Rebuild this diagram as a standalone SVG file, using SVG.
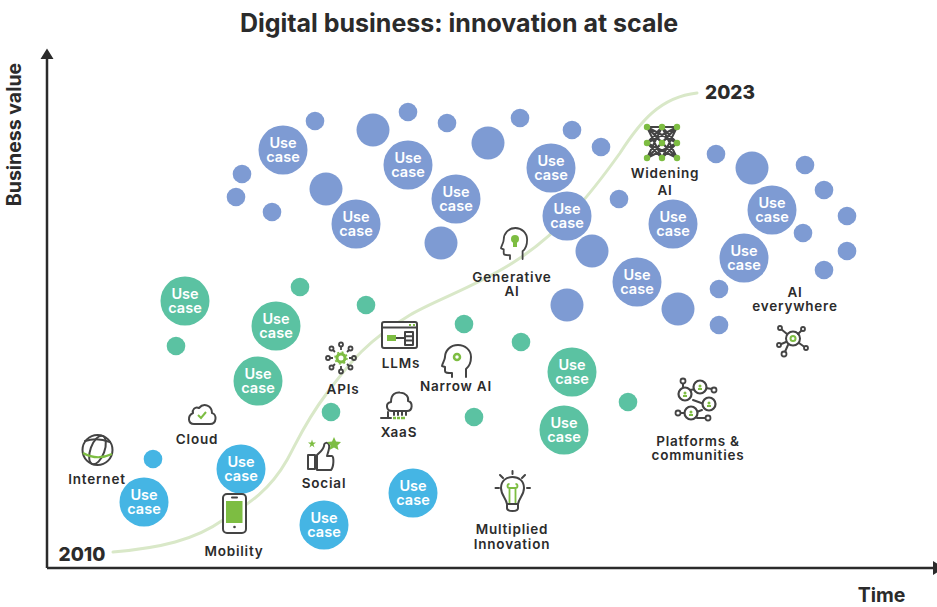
<svg xmlns="http://www.w3.org/2000/svg" width="937" height="607" viewBox="0 0 937 607">
<style>
text{font-family:"Inter","Lato","Liberation Sans",sans-serif;font-weight:700;fill:#2b2b2b;text-anchor:middle}
.l{font-size:13.500px;font-weight:600;letter-spacing:.8px}
.y{font-size:19px;font-weight:800}
.t{font-size:19.500px;font-weight:700}
.u{fill:#fff;font-size:14.500px;font-weight:600}
.v{fill:#7e9bd3}.g{fill:#5bc2a2}.b{fill:#45b5e4}
.i{fill:none;stroke:#444;stroke-width:2;stroke-linecap:round;stroke-linejoin:round}
.w{fill:#fff;stroke:#444;stroke-width:2;stroke-linecap:round;stroke-linejoin:round}
.a{fill:#7dbd42}
.s{fill:none;stroke:#7dbd42;stroke-width:2}
</style>
<defs>
<g id="uc"><text class="u" y="-2">Use</text><text class="u" y="11.500">case</text></g>
<path id="head" d="M24 32V24C29 20 29 15 29 12C29 5 23 0 16 0C8 0 3 6 3 12C3 15 0 19 0 21L3 22V26C3 28 5 28 10 28V32"/>
</defs>
<rect width="937" height="607" fill="#fff"/>
<text x="459" y="32" font-size="25" font-weight="700">Digital business: innovation at scale</text>
<text transform="translate(21 134.500) rotate(-90)" class="t">Business value</text>
<text x="881.500" y="602" class="t">Time</text>
<g id="connectors">
<path d="M47 568V56M47 568H933" fill="none" stroke="#2b2b2b" stroke-width="2.500"/>
<path d="M40.500 59L47 48.500L53.500 59ZM933 561L944 568L933 575Z" fill="#2b2b2b"/>
<path d="M113 552C160 548 195 540 223 520C250 503 270 490 287 460C297 442 305 422 327 393C345 370 360 345 410 315C435 300 480 285 517 260C560 232 590 195 620 153C640 122 660 97 697 93" fill="none" stroke="#d9e8c8" stroke-width="3" stroke-linecap="round"/>
</g>
<text x="82" y="561" class="y">2010</text>
<text x="730" y="99" class="y">2023</text>
<g id="usecases-violet" class="v">
<circle cx="283" cy="150" r="24.500"/><circle cx="408" cy="165" r="24.500"/><circle cx="456" cy="199" r="24.500"/><circle cx="356" cy="224" r="24.500"/><circle cx="551" cy="168" r="24.500"/><circle cx="567" cy="216" r="24.500"/><circle cx="673" cy="224" r="24.500"/><circle cx="637" cy="282" r="24.500"/><circle cx="744" cy="258" r="24.500"/><circle cx="772" cy="210" r="24.500"/>
<circle cx="373" cy="130" r="16.500"/><circle cx="488" cy="143" r="16.500"/><circle cx="326" cy="189" r="16.500"/><circle cx="441" cy="243" r="16.500"/><circle cx="592" cy="251" r="16.500"/><circle cx="567" cy="305" r="16.500"/><circle cx="678" cy="309" r="16.500"/><circle cx="752" cy="168" r="16.500"/>
<circle cx="315" cy="121" r="9.300"/><circle cx="408" cy="112" r="9.300"/><circle cx="447" cy="123" r="9.300"/><circle cx="520" cy="118" r="9.300"/><circle cx="572" cy="130" r="9.300"/><circle cx="601" cy="147" r="9.300"/><circle cx="619" cy="199" r="9.300"/><circle cx="242" cy="174" r="9.300"/><circle cx="236" cy="197" r="9.300"/><circle cx="272" cy="212" r="9.300"/><circle cx="716" cy="154" r="9.300"/><circle cx="805" cy="165" r="9.300"/><circle cx="824" cy="190" r="9.300"/><circle cx="847" cy="216" r="9.300"/><circle cx="803" cy="233" r="9.300"/><circle cx="847" cy="251" r="9.300"/><circle cx="824" cy="270" r="9.300"/><circle cx="719" cy="289" r="9.300"/><circle cx="719" cy="325" r="9.300"/>
</g>
<g id="usecases-green" class="g">
<circle cx="185" cy="301" r="24.500"/><circle cx="276" cy="326" r="24.500"/><circle cx="258" cy="381" r="24.500"/><circle cx="572" cy="372" r="24.500"/><circle cx="564" cy="430" r="24.500"/>
<circle cx="176" cy="346" r="9.300"/><circle cx="300" cy="287" r="9.300"/><circle cx="366" cy="305" r="9.300"/><circle cx="464" cy="324" r="9.300"/><circle cx="521" cy="342" r="9.300"/><circle cx="331" cy="412" r="9.300"/><circle cx="474" cy="417" r="9.300"/><circle cx="628" cy="402" r="9.300"/>
</g>
<g id="usecases-blue" class="b">
<circle cx="144" cy="502" r="24.500"/><circle cx="241" cy="469" r="24.500"/><circle cx="324" cy="525" r="24.500"/><circle cx="413" cy="493" r="24.500"/><circle cx="153" cy="459" r="9.300"/>
</g>
<g id="usecase-labels">
<use href="#uc" x="283" y="150"/><use href="#uc" x="408" y="165"/><use href="#uc" x="456" y="199"/><use href="#uc" x="356" y="224"/><use href="#uc" x="551" y="168"/><use href="#uc" x="567" y="216"/><use href="#uc" x="673" y="224"/><use href="#uc" x="637" y="282"/><use href="#uc" x="744" y="258"/><use href="#uc" x="772" y="210"/>
<use href="#uc" x="185" y="301"/><use href="#uc" x="276" y="326"/><use href="#uc" x="258" y="381"/><use href="#uc" x="572" y="372"/><use href="#uc" x="564" y="430"/>
<use href="#uc" x="144" y="502"/><use href="#uc" x="241" y="469"/><use href="#uc" x="324" y="525"/><use href="#uc" x="413" y="493"/>
</g>
<g id="internet">
<circle class="i" cx="97.500" cy="450" r="15" stroke-width="2.500"/><ellipse class="i" cx="97.500" cy="450" rx="7" ry="15" transform="rotate(20 97.500 450)"/><path class="i" d="M85 441Q97 437 110 442"/><path d="M83 453Q97 461 112 454" fill="none" stroke="#7dbd42" stroke-width="2.200"/>
<text class="l" x="97" y="484">Internet</text>
</g>
<g id="cloud">
<path class="i" d="M194 424H210C217 424 217 414 212 413C212 406 204 402 199 408C195 406 192 410 193 413C187 416 188 424 194 424Z"/><path d="M198 415L201 418L206 412" fill="none" stroke="#7dbd42" stroke-width="2"/>
<text class="l" x="197" y="444">Cloud</text>
</g>
<g id="mobility">
<rect class="w" x="223" y="494" width="23" height="39" rx="4"/><rect class="a" x="226" y="501" width="16.500" height="22"/><circle cx="234.500" cy="527" r="1.300" fill="#444"/><path class="i" d="M232 497.500H237" stroke-width="1.500"/>
<text class="l" x="234" y="556">Mobility</text>
</g>
<g id="social">
<path class="i" d="M308 455H315V469H308ZM317 455C320 452 323 450 324 446C324 442 328 442 329 445C330 448 328 452 327 456H332C334 456 334 467 331 470H317Z"/><path class="a" d="M312 439.500L313 442.500L316 442.500L313.500 444.500L314.500 447.500L312 445.500L309.500 447.500L310.500 444.500L308 442.500L311 442.500ZM334 437L336 441.500L341 442L337.500 445.500L338.500 450L334 447.500L329.500 450L330.500 445.500L327 442L332 441.500Z"/>
<text class="l" x="324" y="488">Social</text>
</g>
<g id="apis">
<circle cx="341" cy="358" r="4" fill="none" stroke="#7dbd42" stroke-width="3"/><circle cx="341" cy="358" r="6" fill="none" stroke="#7dbd42" stroke-width="1.500" stroke-dasharray="2 2.700"/>
<g fill="none" stroke="#444" stroke-width="1.800"><circle cx="341" cy="344.500" r="2"/><circle cx="350.500" cy="348.500" r="2"/><circle cx="354" cy="358" r="2"/><circle cx="350.500" cy="367.500" r="2"/><circle cx="341" cy="371.500" r="2"/><circle cx="331.500" cy="367.500" r="2"/><circle cx="328" cy="358" r="2"/><circle cx="331.500" cy="348.500" r="2"/>
<path d="M341 346.500V350M349 350L347 352M352 358H349M349 366L347 364M341 369.500V366M333 366L335 364M330 358H333M333 350L335 352"/></g>
<text class="l" x="343" y="394">APIs</text>
</g>
<g id="llms">
<rect class="w" x="382" y="322" width="35" height="26" rx="2"/><path class="i" d="M382 327.500H417M405 332H413V345H405ZM405 336.300H413M405 340.600H413M396 338H405" stroke-width="1.500"/><rect class="a" x="387" y="335" width="9" height="6"/><path class="s" d="M409 325H411M413 325H415" stroke-width="1.500"/>
<text class="l" x="401" y="368">LLMs</text>
</g>
<g id="xaas">
<path class="i" d="M392 411C386 411 385 403 391 402C391 394 396 392 400 392.500C406 393 409 397 408 401C413 402 413 411 407 411Z"/><path class="i" d="M394 411V415M398 411V415M402 411V415M406 411V415M381 418H391M388 418V412" stroke-width="1.500"/>
<path d="M393 418H396M397 418H400M401 418H405" stroke="#7dbd42" stroke-width="2.500"/>
<text class="l" x="399" y="437">XaaS</text>
</g>
<g id="narrow-ai">
<use href="#head" class="i" x="442" y="345"/><circle cx="457" cy="357" r="3" fill="none" stroke="#7dbd42" stroke-width="2.500"/>
<text x="456" y="391" class="l">Narrow AI</text>
</g>
<g id="generative-ai">
<use href="#head" class="i" transform="translate(501 228) scale(.9 .97)"/><circle class="a" cx="515" cy="239" r="4"/><rect class="a" x="513" y="242" width="4" height="5"/>
<text x="512" y="281.500" class="l">Generative</text><text x="512" y="296" class="l">AI</text>
</g>
<g id="widening-ai">
<path d="M647 127H677M647 127L662 143L677 127M647 127L662 158L677 127M647 143L662 127L677 143L662 158ZM647 158L662 143L677 158M647 127L677 158M677 127L647 158M662 127L647 158M662 127L677 158M647 143L677 158M677 143L647 158M647 143L677 127M677 143L647 127" fill="none" stroke="#444" stroke-width="2"/>
<g class="a"><circle cx="647" cy="127" r="3.200"/><circle cx="662" cy="127" r="3.200"/><circle cx="677" cy="127" r="3.200"/><circle cx="647" cy="143" r="3.200"/><circle cx="662" cy="143" r="3.200"/><circle cx="677" cy="143" r="3.200"/><circle cx="647" cy="158" r="3.200"/><circle cx="662" cy="158" r="3.200"/><circle cx="677" cy="158" r="3.200"/></g>
<text class="l" x="665" y="178">Widening</text><text class="l" x="665" y="195">AI</text>
</g>
<g id="ai-everywhere">
<text class="l" x="795" y="296.500">AI</text><text class="l" x="795" y="311">everywhere</text>
<circle class="i" cx="793" cy="338.500" r="7"/><circle cx="793" cy="338.500" r="2.500" fill="none" stroke="#7dbd42" stroke-width="2"/>
<path class="i" d="M781 329L787 334M803 329L798 334M779 345L786 342M784 354L788 345M806 348L799 343"/>
<g fill="#fff" stroke="#444" stroke-width="1.800"><circle cx="780" cy="328" r="2"/><circle cx="803" cy="329" r="2"/><circle cx="779" cy="345" r="2"/><circle cx="784" cy="354" r="2.500"/><circle cx="806" cy="348" r="2"/></g>
</g>
<g id="platforms">
<path class="i" d="M683 383V390M700 387L712 389M690 390L696 389M693 400L704 404M694 413L702 410M685 413H680M697 418L706 418"/>
<g fill="#fff" stroke="#444" stroke-width="1.800"><circle cx="683" cy="381" r="2.500"/><circle cx="714" cy="390" r="2.500"/><circle cx="678" cy="413" r="2.500"/><circle cx="708" cy="418" r="2.500"/></g>
<g fill="#fff" stroke="#444" stroke-width="2.200"><circle cx="685" cy="394" r="6.500"/><circle cx="700" cy="387" r="6.500"/><circle cx="709" cy="404" r="6.500"/><circle cx="691" cy="413" r="6.500"/></g>
<g class="a"><circle cx="685" cy="393" r="1.500"/><rect x="683" y="395" width="4" height="2"/><circle cx="700" cy="386" r="1.500"/><rect x="698" y="388" width="4" height="2"/><circle cx="709" cy="403" r="1.500"/><rect x="707" y="405" width="4" height="2"/><circle cx="691" cy="412" r="1.500"/><rect x="689" y="414" width="4" height="2"/></g>
<text class="l" x="698" y="445.500">Platforms &amp;</text><text class="l" x="698" y="460">communities</text>
</g>
<g id="multiplied-innovation">
<path class="i" d="M507 504C506 498 501 495 501 488C501 481 506 477 512.500 477C519 477 524 481 524 488C524 495 519 498 518 504ZM507 504V508C507 512 518 512 518 508V504"/>
<path d="M509.500 503V487M515.500 503V487M509.500 484A2 2 0 1 0 509.500 488H515.500A2 2 0 1 0 515.500 484" fill="none" stroke="#7dbd42" stroke-width="1.800"/>
<path class="i" d="M512.500 471V474M500 475L503 478M525 475L522 478M495.500 488H499M527 488H530" stroke-width="1.800"/>
<text class="l" x="512" y="534">Multiplied</text><text class="l" x="512" y="548.500">Innovation</text>
</g>
</svg>
